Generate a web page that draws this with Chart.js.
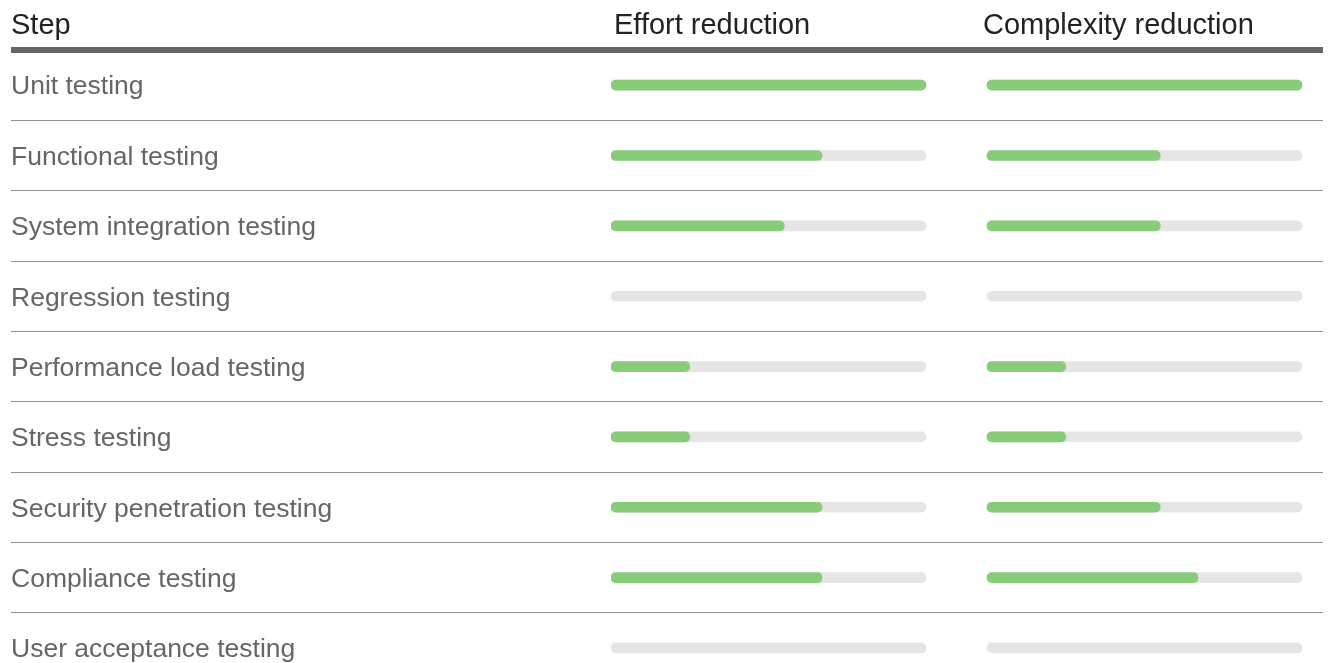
<!DOCTYPE html>
<html>
<head>
<meta charset="utf-8">
<script src="https://cdn.jsdelivr.net/npm/chart.js@4/dist/chart.umd.min.js"></script>
<style>
  html, body { margin: 0; padding: 0; background: #fff; overflow: hidden; }
  #wrap { position: relative; width: 1328px; height: 702px; }
  .head { position: absolute; top: 10px; font: 29px/29px "Liberation Sans", Arial, sans-serif; color: #222; white-space: nowrap; }
</style>
</head>
<body>
<div id="wrap">
  <div class="head" style="left:11px">Step</div>
  <div class="head" style="left:614px">Effort reduction</div>
  <div class="head" style="left:983px">Complexity reduction</div>
  <canvas id="table"></canvas>
</div>
<script>
var steps = [
  "Unit testing",
  "Functional testing",
  "System integration testing",
  "Regression testing",
  "Performance load testing",
  "Stress testing",
  "Security penetration testing",
  "Compliance testing",
  "User acceptance testing"
];
var effort = [100, 67, 55, 0, 25, 25, 67, 67, 0];
var complexity = [100, 55, 55, 0, 25, 25, 55, 67, 0];
var track = [100, 100, 100, 100, 100, 100, 100, 100, 100];

// column geometry (px) used to set the two x ranges
var areaLeft = 611, areaRight = 1323, colTwo = 987, trackPx = 315;
var span = (areaRight - areaLeft) / trackPx * 100;
var x2min = -(colTwo - areaLeft) / trackPx * 100;

var green = "#88cc79";
var grey = "#e5e5e5";

// no green sliver for zero values
function fill(c) {
  return c.raw ? green : "rgba(0,0,0,0)";
}

var ctx = document.getElementById("table").getContext("2d");
var myChart = new Chart(ctx, {
  type: "bar",
  data: {
    labels: steps,
    datasets: [
      { data: effort, xAxisID: "x", backgroundColor: fill },
      { data: complexity, xAxisID: "x2", backgroundColor: fill },
      { data: track, xAxisID: "x", backgroundColor: grey },
      { data: track, xAxisID: "x2", backgroundColor: grey },
    ],
  },
  options: {
    indexAxis: "y",
    responsive: true,
    maintainAspectRatio: false,
    animation: false,
    events: [],
    datasets: {
      bar: {
        grouped: false,
        barThickness: 10,
        borderRadius: 5,
        borderSkipped: false,
      },
    },
    layout: {
      padding: { left: 11, top: 50, right: 5, bottom: 0 },
    },
    scales: {
      x: { display: false, min: 0, max: span },
      x2: { display: false, min: x2min, max: x2min + span },
      y: {
        position: "left",
        border: { display: false },
        afterFit: function (scale) {
          scale.width = areaLeft - 11;
        },
        grid: {
          offset: true,
          tickLength: areaLeft - 11,
          color: function (c) { return c.index === 0 ? "#666" : "#909090"; },
          lineWidth: function (c) { return c.index === 0 ? 6 : 1; },
        },
        ticks: {
          autoSkip: false,
          crossAlign: "far",
          labelOffset: 2,
          color: "#666",
          font: { family: "'Liberation Sans', Arial, sans-serif", size: 26.5 },
        },
      },
    },
    plugins: {
      legend: { display: false },
      tooltip: { enabled: false },
    },
  },
});
</script>
</body>
</html>
